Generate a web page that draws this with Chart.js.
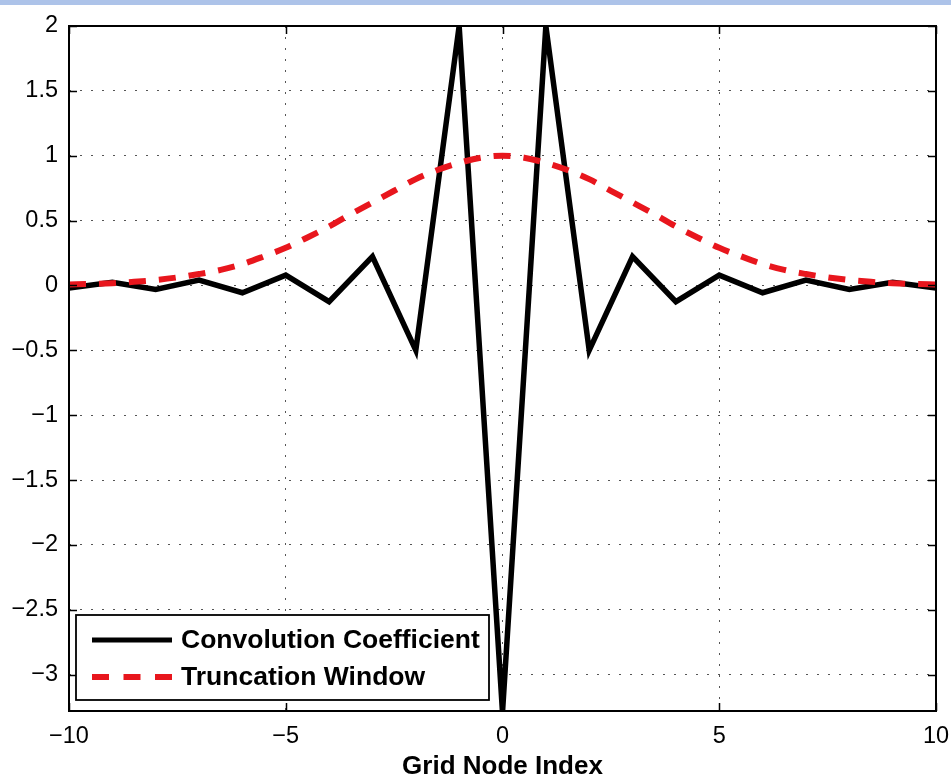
<!DOCTYPE html>
<html><head><meta charset="utf-8">
<script src="https://cdn.jsdelivr.net/npm/chart.js@4/dist/chart.umd.min.js"></script>
<style>html,body{margin:0;padding:0;background:#fff;overflow:hidden}#wrap{position:relative;width:951px;height:782px}</style>
</head><body><div id="wrap"><canvas id="c" width="951" height="782"></canvas></div>
<script>
// ---- data ----
const nodeIndex = [-10,-9,-8,-7,-6,-5,-4,-3,-2,-1,0,1,2,3,4,5,6,7,8,9,10];
const convolutionCoefficient = [-0.02,0.025,-0.031,0.041,-0.056,0.08,-0.125,0.222,-0.5,2.0,-3.29,2.0,-0.5,0.222,-0.125,0.08,-0.056,0.041,-0.031,0.025,-0.02];
const windowIndex = [-10,-9.5,-9,-8.5,-8,-7.5,-7,-6.5,-6,-5.5,-5,-4.5,-4,-3.5,-3,-2.5,-2,-1.5,-1,-0.5,0,0.5,1,1.5,2,2.5,3,3.5,4,4.5,5,5.5,6,6.5,7,7.5,8,8.5,9,9.5,10];
const truncationWindow = [0.008,0.012,0.018,0.028,0.042,0.062,0.088,0.12,0.165,0.225,0.29,0.37,0.455,0.55,0.64,0.73,0.82,0.89,0.945,0.985,1.0,0.985,0.945,0.89,0.82,0.73,0.64,0.55,0.455,0.37,0.29,0.225,0.165,0.12,0.088,0.062,0.042,0.028,0.018,0.012,0.008];
const xTickValues = [-10,-5,0,5,10];
const yTickValues = [-3,-2.5,-2,-1.5,-1,-0.5,0,0.5,1,1.5,2];
const seriesNames = ['Convolution Coefficient','Truncation Window'];
const xAxisTitle = 'Grid Node Index';

const RED = '#e8161d';
const FONT = "'Liberation Sans', Arial, Helvetica, sans-serif";
const fmt = v => (v < 0 ? '\u2212' + Math.abs(v) : String(v));

const framePlugin = {
  id: 'matlabFrame',
  beforeDraw(chart) {
    const ctx = chart.ctx;
    ctx.save();
    ctx.fillStyle = '#ffffff';
    ctx.fillRect(0, 0, chart.width, chart.height);
    ctx.fillStyle = '#adc3e9';
    ctx.fillRect(0, 0, chart.width, 5);
    ctx.restore();
  },
  afterDatasetsDraw(chart) {
    const ctx = chart.ctx;
    const a = chart.chartArea;
    const xs = chart.scales.x, ys = chart.scales.y;
    ctx.save();
    ctx.strokeStyle = '#000';
    ctx.lineWidth = 1.5;
    const tl = 8;
    ctx.beginPath();
    xTickValues.forEach(v => {
      const px = Math.round(xs.getPixelForValue(v)) + 0.5;
      ctx.moveTo(px, a.bottom); ctx.lineTo(px, a.bottom - tl);
      ctx.moveTo(px, a.top); ctx.lineTo(px, a.top + tl);
    });
    yTickValues.forEach(v => {
      const py = Math.round(ys.getPixelForValue(v)) + 0.5;
      ctx.moveTo(a.left, py); ctx.lineTo(a.left + tl, py);
      ctx.moveTo(a.right, py); ctx.lineTo(a.right - tl, py);
    });
    ctx.stroke();
    ctx.lineWidth = 2;
    ctx.strokeRect(a.left, a.top, a.right - a.left, a.bottom - a.top);

    // legend
    const bx = 76, by = 615, bw = 413, bh = 85;
    ctx.fillStyle = '#fff';
    ctx.fillRect(bx, by, bw, bh);
    ctx.lineWidth = 1.8;
    ctx.strokeRect(bx, by, bw, bh);
    const rows = [
      {y: 640, color: '#000', dash: [], w: 5},
      {y: 677, color: RED, dash: [17, 14.5], w: 6}
    ];
    rows.forEach((r, i) => {
      ctx.beginPath();
      ctx.setLineDash(r.dash);
      ctx.strokeStyle = r.color;
      ctx.lineWidth = r.w;
      ctx.lineCap = 'butt';
      ctx.moveTo(92, r.y); ctx.lineTo(172, r.y);
      ctx.stroke();
      ctx.setLineDash([]);
      ctx.fillStyle = '#000';
      ctx.font = "bold 26.5px " + FONT;
      ctx.textBaseline = 'middle';
      ctx.textAlign = 'left';
      ctx.fillText(seriesNames[i], 181, r.y + 1);
    });
    ctx.restore();
  }
};

new Chart(document.getElementById('c'), {
  type: 'line',
  data: {
    datasets: [
      {
        label: seriesNames[0],
        data: nodeIndex.map((x, i) => ({x, y: convolutionCoefficient[i]})),
        borderColor: '#000', borderWidth: 5.5, pointRadius: 0, tension: 0,
        borderJoinStyle: 'miter', clip: 0, order: 1
      },
      {
        label: seriesNames[1],
        data: windowIndex.map((x, i) => ({x, y: truncationWindow[i]})),
        borderColor: RED, borderWidth: 6, pointRadius: 0,
        cubicInterpolationMode: 'monotone', borderDash: [17, 13], borderCapStyle: 'butt',
        clip: 0, order: 0
      }
    ]
  },
  options: {
    responsive: false, animation: false, devicePixelRatio: 1,
    layout: {padding: {left: 0, right: 15, top: 26, bottom: 0}},
    plugins: {legend: {display: false}, tooltip: {enabled: false}},
    scales: {
      x: {
        type: 'linear', min: -10, max: 10,
        afterBuildTicks: s => { s.ticks = xTickValues.map(v => ({value: v})); },
        afterFit: s => { s.height = 71; s.paddingLeft = 0; s.paddingRight = 0; },
        grid: {color: '#555', lineWidth: 1, drawTicks: false},
        border: {display: false, dash: [2, 9]},
        ticks: {color: '#000', padding: 11, font: {family: FONT, size: 23.5}, callback: v => fmt(v), maxRotation: 0},
        title: {display: true, text: xAxisTitle, color: '#000', padding: {top: 0, bottom: 0}, font: {family: FONT, size: 26, weight: 'bold'}}
      },
      y: {
        type: 'linear', min: -3.28, max: 2,
        afterBuildTicks: s => { s.ticks = yTickValues.map(v => ({value: v})); },
        afterFit: s => { s.width = 69; s.paddingTop = 0; s.paddingBottom = 0; },
        grid: {color: '#555', lineWidth: 1, drawTicks: false},
        border: {display: false, dash: [2, 9]},
        ticks: {color: '#000', padding: 11, font: {family: FONT, size: 23.5}, callback: v => fmt(v)}
      }
    }
  },
  plugins: [framePlugin]
});
</script></body></html>
